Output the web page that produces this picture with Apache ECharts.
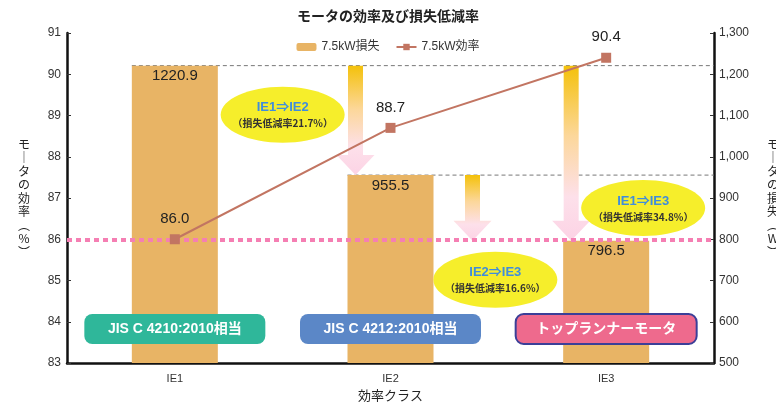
<!DOCTYPE html>
<html><head><meta charset="utf-8">
<script src="https://cdn.jsdelivr.net/npm/echarts@6/dist/echarts.min.js"></script>
<style>html,body{margin:0;padding:0;background:#fff}#c{width:776px;height:405px}</style>
</head><body><div id="c"></div>
<script>
const categories = ['IE1', 'IE2', 'IE3'];
const lossValues = [1220.9, 955.5, 796.5];
const effValues = [86.0, 88.7, 90.4];
const effAxis = { min: 83, max: 91, interval: 1 };
const lossAxis = { min: 500, max: 1300, interval: 100 };
const baselineEff = 86;
const reductionNotes = [
  { title: 'IE1⇒IE2', note: '（損失低減率21.7%）' },
  { title: 'IE2⇒IE3', note: '（損失低減率16.6%）' },
  { title: 'IE1⇒IE3', note: '（損失低減率34.8%）' }
];
const classLabels = ['JIS C 4210:2010相当', 'JIS C 4212:2010相当', 'トップランナーモータ'];
const seriesNames = ['7.5kW損失', '7.5kW効率'];

const FONT = "'Liberation Sans','Noto Sans CJK JP',sans-serif";
const JP = "'Noto Sans CJK JP',sans-serif";
const GRID = { left: 67, right: 62, top: 33, bottom: 42 };
const W = 776, H = 405;
const chart = echarts.init(document.getElementById('c'), null, { renderer: 'canvas' });

const axisLineStyle = { color: '#111', width: 2.5 };
chart.setOption({
  animation: false,
  textStyle: { fontFamily: FONT },
  title: {
    text: 'モータの効率及び損失低減率', left: 'center', top: 4,
    textStyle: { fontSize: 14, fontWeight: 'bold', color: '#222', fontFamily: JP }
  },
  legend: {
    top: 36, left: 'center', itemWidth: 20, itemHeight: 8, itemGap: 16,
    textStyle: { fontSize: 12, color: '#333', fontFamily: FONT },
    data: seriesNames
  },
  grid: Object.assign({ outerBoundsMode: 'none', containLabel: false }, GRID),
  xAxis: {
    type: 'category', data: categories,
    name: '効率クラス', nameLocation: 'middle', nameGap: 25,
    nameTextStyle: { fontSize: 13, color: '#222', fontFamily: JP },
    axisLine: { lineStyle: axisLineStyle },
    axisTick: { inside: true, length: 4, lineStyle: { color: '#666', width: 1 } },
    axisLabel: { fontSize: 11, color: '#333', margin: 10 }
  },
  yAxis: [
    {
      type: 'value', min: effAxis.min, max: effAxis.max, interval: effAxis.interval,
      name: 'モ\n｜\nタ\nの\n効\n率\n︵\n%\n︶', nameLocation: 'middle', nameGap: 43, nameRotate: 0,
      nameTextStyle: { fontSize: 12, color: '#222', align: 'center', lineHeight: 13.5, fontFamily: JP },
      axisLine: { show: true, lineStyle: axisLineStyle },
      axisTick: { show: true, inside: true, length: 4, lineStyle: { color: '#333' } },
      axisLabel: { fontSize: 12, color: '#333', margin: 6 },
      splitLine: { show: false }
    },
    {
      type: 'value', min: lossAxis.min, max: lossAxis.max, interval: lossAxis.interval,
      name: 'モ\n｜\nタ\nの\n損\n失\n︵\nW\n︶', nameLocation: 'middle', nameGap: 59, nameRotate: 0,
      nameTextStyle: { fontSize: 12, color: '#222', align: 'center', lineHeight: 13.5, fontFamily: JP },
      axisLine: { show: true, lineStyle: axisLineStyle },
      axisTick: { show: true, inside: true, length: 4, lineStyle: { color: '#333' } },
      axisLabel: { fontSize: 12, color: '#333', margin: 5,
        formatter: v => String(v).replace(/\B(?=(\d{3})+(?!\d))/g, ',') },
      splitLine: { show: false }
    }
  ],
  series: [
    {
      name: seriesNames[0], type: 'bar', yAxisIndex: 1, data: lossValues, barWidth: 86,
      itemStyle: { color: '#e8b465' },
      label: { show: true, position: 'insideTop', distance: 3, fontSize: 15, color: '#222',
        formatter: p => p.value.toFixed(1) },
      z: 2
    },
    {
      name: seriesNames[1], type: 'line', yAxisIndex: 0, data: effValues,
      symbol: 'rect', symbolSize: 10,
      lineStyle: { color: '#c27562', width: 2 },
      itemStyle: { color: '#c27562' },
      label: { show: true, position: 'top', distance: 8, fontSize: 15, color: '#222',
        formatter: p => p.value.toFixed(1) },
      markLine: {
        silent: true, symbol: ['none', 'none'], label: { show: false },
        lineStyle: { color: '#f57fb3', width: 4, type: [5, 4], cap: 'butt' },
        data: [{ yAxis: baselineEff }]
      },
      z: 20
    }
  ]
});

// Decorations positioned through the chart's own scales
const xc = c => chart.convertToPixel({ xAxisIndex: 0 }, c);
const yL = v => chart.convertToPixel({ yAxisIndex: 1 }, v);
const gridRightX = W - GRID.right;
const gridBottomY = H - GRID.bottom;
const halfBar = 43;

function arrow(cx, y0, y1) {
  const sw = 7.5, hw = 19, hh = 20;
  return {
    type: 'polygon', z: 1, silent: true,
    shape: { points: [[cx - sw, y0], [cx + sw, y0], [cx + sw, y1 - hh], [cx + hw, y1 - hh], [cx, y1], [cx - hw, y1 - hh], [cx - sw, y1 - hh]] },
    style: {
      fill: new echarts.graphic.LinearGradient(0, 0, 0, 1, [
        { offset: 0, color: '#f4c10a' },
        { offset: 0.4, color: '#fcd79a' },
        { offset: 0.75, color: '#fde0ea' },
        { offset: 1, color: '#fcd3e5' }
      ])
    }
  };
}
function ellipse(cx, cy, n) {
  return [
    { type: 'ellipse', z: 3, silent: true, shape: { cx: cx, cy: cy, rx: 62, ry: 28 }, style: { fill: '#f6ee2b' } },
    { type: 'text', z: 4, silent: true, x: cx, y: cy - 7, style: { text: n.title, fill: '#3f8ddc', fontSize: 13, fontWeight: 'bold', fontFamily: FONT, align: 'center', verticalAlign: 'middle' } },
    { type: 'text', z: 4, silent: true, x: cx, y: cy + 9, style: { text: n.note, fill: '#333', fontSize: 10, fontWeight: 'bold', fontFamily: JP, align: 'center', verticalAlign: 'middle' } }
  ];
}
function badge(cx, text, fill, stroke) {
  const w = 181, h = 30, cy = gridBottomY - 34;
  return [
    { type: 'rect', z: 50, silent: true, shape: { x: cx - w / 2, y: cy - h / 2, width: w, height: h, r: 8 },
      style: { fill: fill, stroke: stroke || null, lineWidth: stroke ? 2 : 0 } },
    { type: 'text', z: 51, silent: true, x: cx, y: cy, style: { text: text, fill: '#fff', fontSize: 14, fontWeight: 'bold', fontFamily: FONT, align: 'center', verticalAlign: 'middle' } }
  ];
}

const x1 = xc(categories[0]), x2 = xc(categories[1]), x3 = xc(categories[2]);
const y1 = yL(lossValues[0]), y2 = yL(lossValues[1]), y3 = yL(lossValues[2]);

chart.setOption({
  graphic: [].concat(
    [
      { type: 'line', z: 1, silent: true, shape: { x1: x1 - halfBar, y1: y1, x2: gridRightX, y2: y1 }, style: { stroke: '#777', lineWidth: 1, lineDash: [4, 3] } },
      { type: 'line', z: 1, silent: true, shape: { x1: x2 - halfBar, y1: y2, x2: gridRightX, y2: y2 }, style: { stroke: '#777', lineWidth: 1, lineDash: [4, 3] } },
      arrow(x2 - halfBar + 8, y1, y2),
      arrow(x2 + 82, y2, y3),
      arrow(x3 - halfBar + 8, y1, y3)
    ],
    ellipse((x1 + x2) / 2, y1 + 49, reductionNotes[0]),
    ellipse((x2 + x3) / 2 - 3, y3 + 39, reductionNotes[1]),
    ellipse(x3 + 37, y2 + 33, reductionNotes[2]),
    badge(x1, classLabels[0], '#2fb79a'),
    badge(x2, classLabels[1], '#5b87c7'),
    badge(x3, classLabels[2], '#ee6a8d', '#3b3f98')
  )
});
</script>
</body></html>
